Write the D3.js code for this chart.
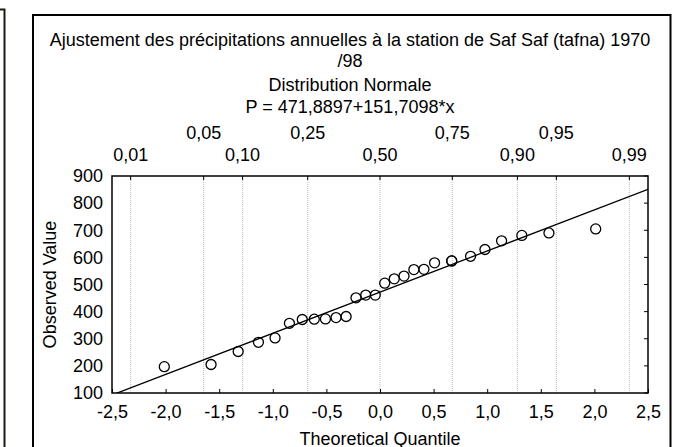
<!DOCTYPE html>
<html>
<head>
<meta charset="utf-8">
<script src="https://cdn.jsdelivr.net/npm/d3@7"></script>
<style>
  body { margin: 0; background: #fff; }
  svg text { font-family: "Liberation Sans", Arial, sans-serif; fill: #000; }
</style>
</head>
<body>
<svg id="chart" width="683" height="447"></svg>
<script>
//  title lines
const titleLines = ["Ajustement des précipitations annuelles à la station de Saf Saf (tafna) 1970", "/98", "Distribution Normale", "P = 471,8897+151,7098*x"];

//  fit line  P = a + b*x
const fitIntercept = 471.8897;
const fitSlope = 151.7098;

//  theoretical quantiles (x) and observed values (y)
const quantiles = [-2.012, -1.576, -1.323, -1.134, -0.979, -0.845, -0.725, -0.613, -0.509, -0.410, -0.316, -0.224, -0.133, -0.044,
                   0.044, 0.133, 0.224, 0.316, 0.410, 0.509, 0.669, 0.669, 0.845, 0.979, 1.134, 1.323, 1.576, 2.012];
const observed = [197, 205, 253, 287, 303, 357, 371, 372, 373, 378, 382, 451, 461, 461,
                  505, 521, 531, 555, 556, 580, 587, 587, 604, 629, 661, 681, 690, 705];

//  top probability axis
const probLabels = ["0,01", "0,05", "0,10", "0,25", "0,50", "0,75", "0,90", "0,95", "0,99"];
const probQuantiles = [-2.326, -1.645, -1.2816, -0.6745, 0, 0.6745, 1.2816, 1.645, 2.326];

//  axis ticks
const xTicks = [-2.5, -2.0, -1.5, -1.0, -0.5, 0.0, 0.5, 1.0, 1.5, 2.0, 2.5];
const yTicks = [100, 200, 300, 400, 500, 600, 700, 800, 900];

const margin = ({top: 176, right: 35, bottom: 54, left: 112});
const w = 683, h = 447;
const fs = "18px";
const svg = d3.select("#chart");

const fr = d3.formatLocale({decimal: ",", thousands: " ", grouping: [3], currency: ["", ""], minus: "-"});
const fmt = fr.format(".1f");

const x = d3.scaleLinear().domain([-2.5, 2.5]).range([margin.left, w - margin.right]);
const y = d3.scaleLinear().domain([100, 900]).range([h - margin.bottom, margin.top]);

//  stray frame at left
svg.append("path")
   .attr("d", "M0,9.5 H4.5 V447")
   .attr("fill", "none").attr("stroke", "#1a1a10").attr("stroke-width", 2);

//  outer frame
svg.append("path")
   .attr("d", "M33,447 V15 H670.5 V447")
   .attr("fill", "none").attr("stroke", "#000").attr("stroke-width", 2);

//  title
const titleY = [41, 62, 86, 108];
titleLines.forEach((t, i) => {
  svg.append("text")
     .attr("x", 350).attr("y", titleY[i])
     .attr("text-anchor", "middle")
     .attr("dominant-baseline", "middle")
     .style("font-size", fs)
     .text(t);
});

//  grid at probability quantiles
svg.append("g")
   .selectAll("line")
   .data(probQuantiles)
   .join("line")
   .attr("x1", d => x(d)).attr("x2", d => x(d))
   .attr("y1", margin.top).attr("y2", h - margin.bottom)
   .attr("stroke", "#bbb").attr("stroke-width", 1)
   .attr("stroke-dasharray", "1,1");

//  top probability ticks and labels
svg.append("g")
   .selectAll("line")
   .data(probQuantiles)
   .join("line")
   .attr("x1", d => x(d)).attr("x2", d => x(d))
   .attr("y1", margin.top).attr("y2", margin.top + 4)
   .attr("stroke", "#000");

svg.append("g")
   .selectAll("text")
   .data(probLabels)
   .join("text")
   .attr("x", (d, i) => x(probQuantiles[i]))
   .attr("y", (d, i) => i % 2 == 0 ? 156 : 134)
   .attr("text-anchor", "middle")
   .attr("dominant-baseline", "middle")
   .style("font-size", fs)
   .text(d => d);

//  bottom axis
const xAxis = g => g
  .attr("transform", `translate(0,${h - margin.bottom})`)
  .call(d3.axisBottom(x).tickValues(xTicks).tickFormat(fmt).tickSizeInner(-4).tickSizeOuter(0).tickPadding(12));

svg.append("g")
   .style("font-size", fs)
   .style("font-family", "'Liberation Sans', Arial, sans-serif")
   .call(xAxis)
   .call(g => g.select(".domain").remove());

//  left axis labels (no tick marks)
const yAxis = g => g
  .attr("transform", `translate(${margin.left},0)`)
  .call(d3.axisLeft(y).tickValues(yTicks).tickSize(0).tickPadding(9));

svg.append("g")
   .style("font-size", fs)
   .style("font-family", "'Liberation Sans', Arial, sans-serif")
   .call(yAxis)
   .call(g => g.select(".domain").remove());

//  right axis inner ticks
svg.append("g")
   .selectAll("line")
   .data(yTicks)
   .join("line")
   .attr("x1", w - margin.right).attr("x2", w - margin.right - 4)
   .attr("y1", d => y(d)).attr("y2", d => y(d))
   .attr("stroke", "#000");

//  fit line, clipped to plot
svg.append("clipPath").attr("id", "clip")
   .append("rect")
   .attr("x", margin.left).attr("y", margin.top)
   .attr("width", w - margin.left - margin.right)
   .attr("height", h - margin.top - margin.bottom);

svg.append("line")
   .attr("clip-path", "url(#clip)")
   .attr("x1", x(-2.5)).attr("y1", y(fitIntercept + fitSlope * -2.5))
   .attr("x2", x(2.5)).attr("y2", y(fitIntercept + fitSlope * 2.5))
   .attr("stroke", "#000").attr("stroke-width", 1.3);

//  points
svg.append("g")
   .selectAll("circle")
   .data(quantiles)
   .join("circle")
   .attr("cx", d => x(d))
   .attr("cy", (d, i) => y(observed[i]))
   .attr("r", 5)
   .attr("fill", "none")
   .attr("stroke", "#000")
   .attr("stroke-width", 1.3);

//  plot border
svg.append("rect")
   .attr("x", margin.left).attr("y", margin.top)
   .attr("width", w - margin.left - margin.right)
   .attr("height", h - margin.top - margin.bottom)
   .attr("fill", "none").attr("stroke", "#000").attr("stroke-width", 1.5);

//  axis titles
svg.append("text")
   .attr("x", (margin.left + w - margin.right) / 2).attr("y", 440)
   .attr("text-anchor", "middle")
   .attr("dominant-baseline", "middle")
   .style("font-size", fs)
   .text("Theoretical Quantile");

svg.append("text")
   .attr("transform", `translate(51,${(margin.top + h - margin.bottom) / 2}) rotate(-90)`)
   .attr("text-anchor", "middle")
   .attr("dominant-baseline", "middle")
   .style("font-size", fs)
   .text("Observed Value");
</script>
</body>
</html>
